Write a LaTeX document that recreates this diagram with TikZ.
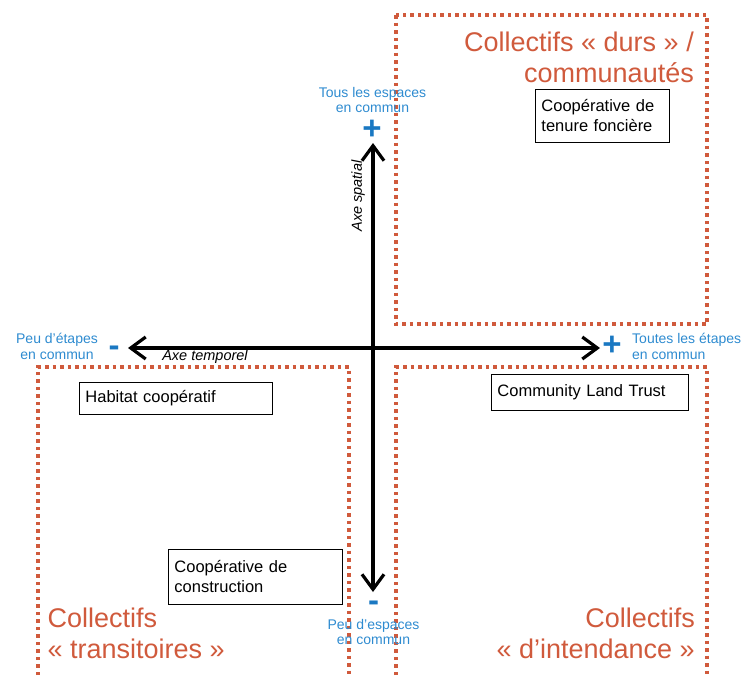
\documentclass[tikz,border=0pt]{standalone}
\usepackage{fontspec}
\setmainfont{Liberation Sans}
\usetikzlibrary{arrows.meta}
\definecolor{rouille}{HTML}{D05A3C}
\definecolor{bleu}{HTML}{2E8BD0}
\definecolor{bleufonce}{HTML}{1A78C2}
\begin{document}
\begin{tikzpicture}[x=1pt,y=-1pt,
  quad/.style={draw=rouille, line width=3.5pt, dash pattern=on 3.5pt off 4pt},
  titre/.style={text=rouille, font=\fontsize{27}{31}\selectfont, inner sep=0pt},
  pole/.style={text=bleu, font=\fontsize{14}{15.5}\selectfont, inner sep=0pt},
  signe/.style={text=bleufonce, font=\fontsize{33}{33}\selectfont\bfseries, inner sep=0pt, anchor=base},
  exemple/.style={draw=black, line width=0.9pt, fill=white, font=\fontsize{16.5}{20}\selectfont, anchor=north west, align=left, inner xsep=6pt, inner ysep=0pt},
  axe/.style={line width=3.2pt, {Straight Barb[length=15pt,width=22pt]}-{Straight Barb[length=15pt,width=22pt]}},
  nomaxe/.style={font=\fontsize{14.5}{15}\selectfont\itshape, inner sep=0pt}
]
\useasboundingbox (0,0) rectangle (743,675);

% quadrants
\draw[quad] (396,15) rectangle (707,324);
\draw[quad] (38,675) -- (38,367) -- (349,367) -- (349,675);
\draw[quad] (396,675) -- (396,367) -- (707,367) -- (707,675);

% axes
\coordinate (haut) at (373,143);
\coordinate (bas) at (373,592);
\coordinate (gauche) at (128,348);
\coordinate (droite) at (600,348);
\draw[axe] (bas) -- (haut);
\draw[axe] (gauche) -- (droite);

\node[nomaxe, rotate=90] (axespatial) at (358,196) {Axe spatial};
\node[nomaxe] (axetemporel) at (205,357) {Axe temporel};

% poles
\node[pole, align=center, anchor=north] (poleH) at (372.5,87) {Tous les espaces\\en commun};
\node[signe] (plusH) at (372,139.5) {+};
\node[pole, align=center, anchor=north] (poleG) at (57,333) {Peu d’étapes\\en commun};
\node[signe] (moinsG) at (114,356) {-};
\node[pole, align=left, anchor=north west] (poleD) at (632,333) {Toutes les étapes\\en commun};
\node[signe] (plusD) at (612,355.5) {+};
\node[pole, align=center, anchor=north] (poleB) at (373.5,619) {Peu d’espaces\\en commun};
\node[signe] (moinsB) at (373.5,611) {-};

% titles
\node[titre, align=right, anchor=north east] (durs) at (694,32) {Collectifs «~durs~»~/\\communautés};
\node[titre, align=left, anchor=north west] (transit) at (47.5,608) {Collectifs\\«~transitoires~»};
\node[titre, align=right, anchor=north east] (intend) at (695,608) {Collectifs\\«~d’intendance~»};

% examples
\node[exemple, text width=122pt, minimum height=53pt] (tenure) at (535,89) {Coopérative de\\tenure foncière};
\node[exemple, text width=181pt, minimum height=32pt] (habitat) at (79,382) {Habitat coopératif};
\node[exemple, text width=185pt, minimum height=36pt] (clt) at (491,374) {Community Land Trust};
\node[exemple, text width=162pt, minimum height=55pt] (constr) at (168,549) {Coopérative de\\construction};
\end{tikzpicture}
\end{document}
